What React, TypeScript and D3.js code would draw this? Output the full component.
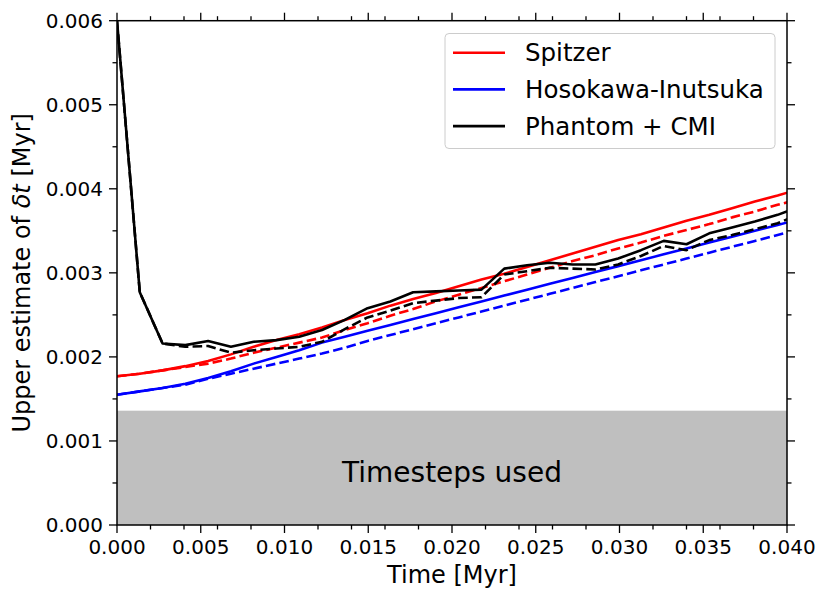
import { useEffect, useRef } from 'react';
import * as d3 from 'd3';

// sample times [Myr]
const times = [
  0, 0.00136, 0.00272, 0.00408, 0.00544, 0.0068, 0.00816, 0.00952, 0.01088, 0.01224,
  0.0136, 0.01496, 0.01632, 0.01768, 0.01904, 0.0204, 0.02176, 0.02312, 0.02448, 0.02584,
  0.0272, 0.02856, 0.02992, 0.03128, 0.03264, 0.034, 0.03536, 0.03672, 0.03808, 0.03944, 0.0408,
];

const spitzerSolid = [
  0.00177, 0.0018, 0.00184, 0.00189, 0.00195, 0.00203, 0.00212, 0.0022, 0.00227, 0.00235,
  0.00244, 0.00252, 0.00261, 0.00269, 0.00276, 0.00284, 0.00292, 0.00299, 0.00307, 0.00315,
  0.00323, 0.00331, 0.00339, 0.00346, 0.00354, 0.00362, 0.00369, 0.00377, 0.00385, 0.00392, 0.004,
];
const spitzerDashed = [
  0.00177, 0.0018, 0.00184, 0.00188, 0.00192, 0.00198, 0.00205, 0.00211, 0.00217, 0.00223,
  0.00232, 0.0024, 0.00249, 0.00257, 0.00266, 0.00274, 0.00282, 0.0029, 0.00298, 0.00306,
  0.00314, 0.00321, 0.00329, 0.00336, 0.00344, 0.00351, 0.00358, 0.00366, 0.00373, 0.00381, 0.00388,
];
const hiSolid = [
  0.00155, 0.00159, 0.00163, 0.00168, 0.00175, 0.00183, 0.00192, 0.002, 0.00208, 0.00217,
  0.00224, 0.00231, 0.00238, 0.00245, 0.00252, 0.00259, 0.00266, 0.00273, 0.0028, 0.00287,
  0.00294, 0.00301, 0.00308, 0.00315, 0.00322, 0.00329, 0.00336, 0.00343, 0.0035, 0.00357, 0.00364,
];
const hiDashed = [
  0.00155, 0.00159, 0.00163, 0.00167, 0.00174, 0.0018, 0.00186, 0.00192, 0.00198, 0.00204,
  0.00211, 0.00219, 0.00226, 0.00233, 0.0024, 0.00247, 0.00254, 0.00261, 0.00268, 0.00275,
  0.00282, 0.00289, 0.00296, 0.00303, 0.0031, 0.00317, 0.00324, 0.00331, 0.00338, 0.00345, 0.00352,
];
const phantomSolid = [
  0.006, 0.00277, 0.00216, 0.00214, 0.00219, 0.00212, 0.00218, 0.0022, 0.00224, 0.00232,
  0.00244, 0.00258, 0.00266, 0.00277, 0.00278, 0.00279, 0.0028, 0.00305, 0.00309, 0.00312,
  0.0031, 0.0031, 0.00317, 0.00327, 0.00338, 0.00334, 0.00347, 0.00354, 0.00361, 0.00369, 0.00379,
];
const phantomDashed = [
  0.006, 0.00277, 0.00216, 0.00212, 0.00213, 0.00205, 0.00208, 0.0021, 0.00212, 0.00218,
  0.00233, 0.00247, 0.00255, 0.00264, 0.00267, 0.0027, 0.00271, 0.00298, 0.00302, 0.00306,
  0.00305, 0.00304, 0.0031, 0.0032, 0.00332, 0.00327, 0.00339, 0.00345, 0.00352, 0.00359, 0.0037,
];

const timestepLimit = 0.00136;

const series = [
  { values: spitzerSolid, color: '#ff0000', dashed: false },
  { values: spitzerDashed, color: '#ff0000', dashed: true },
  { values: hiSolid, color: '#0000ff', dashed: false },
  { values: hiDashed, color: '#0000ff', dashed: true },
  { values: phantomSolid, color: '#000000', dashed: false },
  { values: phantomDashed, color: '#000000', dashed: true },
];

const legendItems = [
  { label: 'Spitzer', color: '#ff0000' },
  { label: 'Hosokawa-Inutsuka', color: '#0000ff' },
  { label: 'Phantom + CMI', color: '#000000' },
];

const FONT = 'DejaVu Sans, sans-serif';

const App = () => {
  const ref = useRef<SVGSVGElement>(null);

  const margin = { top: 20.7, right: 43, bottom: 77, left: 117 };
  const W = 830;
  const H = 602;
  const width = W - margin.left - margin.right;
  const height = H - margin.top - margin.bottom;

  useEffect(() => {
    const svg = d3.select(ref.current);
    svg.selectAll('*').remove();

    const x = d3.scaleLinear().domain([0, 0.04]).range([0, width]);
    const y = d3.scaleLinear().domain([0, 0.006]).range([height, 0]);

    const g = svg.append('g').attr('transform', `translate(${margin.left},${margin.top})`);

    g.append('defs')
      .append('clipPath')
      .attr('id', 'plotClip')
      .append('rect')
      .attr('width', width)
      .attr('height', height);

    // shaded band of timesteps used
    g.append('rect')
      .attr('x', 0)
      .attr('y', y(timestepLimit))
      .attr('width', width)
      .attr('height', y(0) - y(timestepLimit))
      .attr('fill', '#bfbfbf');

    g.append('text')
      .attr('x', width / 2)
      .attr('y', y(timestepLimit / 2) + 14)
      .attr('text-anchor', 'middle')
      .style('font', `28px ${FONT}`)
      .text('Timesteps used');

    const line = d3
      .line<number>()
      .x((_, i) => x(times[i]))
      .y((d) => y(d));

    const lines = g.append('g').attr('clip-path', 'url(#plotClip)');
    series.forEach((s) => {
      lines
        .append('path')
        .datum(s.values)
        .attr('d', line)
        .attr('fill', 'none')
        .attr('stroke', s.color)
        .attr('stroke-width', 2.6)
        .attr('stroke-linejoin', 'round')
        .attr('stroke-dasharray', s.dashed ? '9.6,4.2' : null);
    });

    // frame
    g.append('rect')
      .attr('width', width)
      .attr('height', height)
      .attr('fill', 'none')
      .attr('stroke', '#000')
      .attr('stroke-width', 1.5);

    // ticks on all sides, pointing outward
    const tickG = g.append('g').attr('stroke', '#000').attr('stroke-width', 1.3);
    const drawX = (vals: number[], len: number) => {
      vals.forEach((v) => {
        tickG.append('line').attr('x1', x(v)).attr('x2', x(v)).attr('y1', height).attr('y2', height + len);
        tickG.append('line').attr('x1', x(v)).attr('x2', x(v)).attr('y1', 0).attr('y2', -len);
      });
    };
    const drawY = (vals: number[], len: number) => {
      vals.forEach((v) => {
        tickG.append('line').attr('y1', y(v)).attr('y2', y(v)).attr('x1', 0).attr('x2', -len);
        tickG.append('line').attr('y1', y(v)).attr('y2', y(v)).attr('x1', width).attr('x2', width + len);
      });
    };
    const xMajor = x.ticks(8);
    const yMajor = y.ticks(6);
    drawX(xMajor, 8);
    drawX(x.ticks(16).filter((v) => !xMajor.some((m) => Math.abs(m - v) < 1e-9)), 4.5);
    drawY(yMajor, 8);
    drawY(y.ticks(12).filter((v) => !yMajor.some((m) => Math.abs(m - v) < 1e-9)), 4.5);

    const fmt = d3.format('.3f');
    xMajor.forEach((v) => {
      g.append('text')
        .attr('x', x(v))
        .attr('y', height + 29)
        .attr('text-anchor', 'middle')
        .style('font', `20px ${FONT}`)
        .text(fmt(v));
    });
    yMajor.forEach((v) => {
      g.append('text')
        .attr('x', -14)
        .attr('y', y(v) + 7.3)
        .attr('text-anchor', 'end')
        .style('font', `20px ${FONT}`)
        .text(fmt(v));
    });

    // axis labels
    g.append('text')
      .attr('x', width / 2)
      .attr('y', height + 58)
      .attr('text-anchor', 'middle')
      .style('font', `24px ${FONT}`)
      .text('Time [Myr]');

    const yl = g
      .append('text')
      .attr('transform', `translate(${-87},${height / 2}) rotate(-90)`)
      .attr('text-anchor', 'middle')
      .style('font', `24px ${FONT}`);
    yl.append('tspan').text('Upper estimate of ');
    yl.append('tspan').style('font-style', 'italic').text('δt');
    yl.append('tspan').text(' [Myr]');

    // legend
    const lg = svg.append('g');
    lg.append('rect')
      .attr('x', 445)
      .attr('y', 33.5)
      .attr('width', 330)
      .attr('height', 115)
      .attr('rx', 4)
      .attr('fill', 'rgba(255,255,255,0.8)')
      .attr('stroke', '#cccccc')
      .attr('stroke-width', 1);
    legendItems.forEach((item, i) => {
      const cy = 52.7 + i * 36.7;
      lg.append('line')
        .attr('x1', 453)
        .attr('x2', 505)
        .attr('y1', cy)
        .attr('y2', cy)
        .attr('stroke', item.color)
        .attr('stroke-width', 2.6);
      lg.append('text')
        .attr('x', 525)
        .attr('y', cy + 8.7)
        .style('font', `24.5px ${FONT}`)
        .text(item.label);
    });
  }, [width, height, margin.left, margin.top]);

  return (
    <div style={{ position: 'absolute', left: 0, top: 0 }}>
      <svg width={W} height={H} ref={ref} style={{ display: 'block', background: '#fff' }} />
    </div>
  );
};

export default App;
